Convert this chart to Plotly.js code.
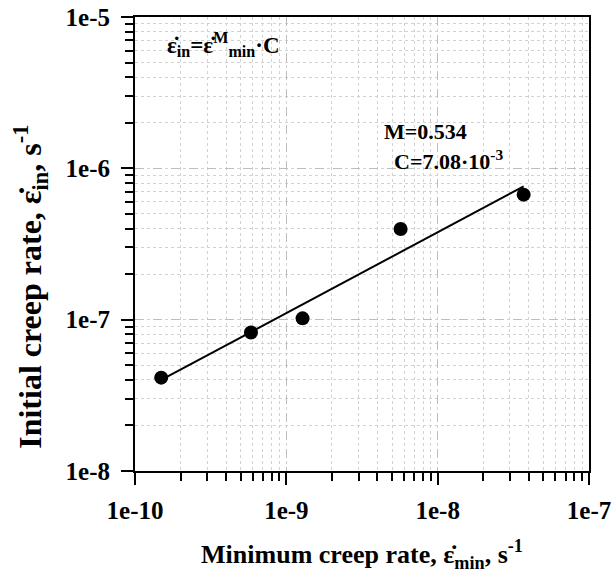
<!DOCTYPE html>
<html>
<head>
<meta charset="utf-8">
<script src="https://cdn.plot.ly/plotly-3.0.1.min.js"></script>
<style>html,body{margin:0;padding:0;background:#fff;}#chart{width:612px;height:579px;}</style>
</head>
<body>
<div id="chart"></div>
<script>
// Measured points: minimum creep rate vs initial creep rate
const minRate = [1.49e-10, 5.84e-10, 1.28e-9, 5.69e-9, 3.7e-8];
const initRate = [4.14e-8, 8.23e-8, 1.02e-7, 3.97e-7, 6.7e-7];
// Fitted power-law line end points
const fitX = [1.49e-10, 3.7e-8];
const fitY = [4.0e-8, 7.6e-7];
// Tick labels
const xTickVals = [1e-10, 1e-9, 1e-8, 1e-7];
const xTickText = ['1e-10', '1e-9', '1e-8', '1e-7'];
const yTickVals = [1e-8, 1e-7, 1e-6, 1e-5];
const yTickText = ['1e-8', '1e-7', '1e-6', '1e-5'];

const FONT = 'Liberation Serif, Times New Roman, serif';
const EDOT = 'ε\u0307';

const traces = [
  {x: fitX, y: fitY, mode: 'lines', line: {color: '#000', width: 2}, hoverinfo: 'skip'},
  {x: minRate, y: initRate, mode: 'markers', marker: {color: '#000', size: 14}}
];

function axis(vals, text, range) {
  return {
    type: 'log', range: range,
    tickmode: 'array', tickvals: vals, ticktext: text,
    ticks: 'outside', ticklen: 12, tickwidth: 2, tickcolor: '#000',
    showline: true, linecolor: '#000', linewidth: 2, mirror: true,
    showgrid: true, gridcolor: '#bdbdbd', gridwidth: 1, griddash: 'dash',
    zeroline: false,
    tickfont: {family: FONT, size: 25, color: '#000', weight: 'bold'},
    minor: {dtick: 'D1', ticks: 'outside', ticklen: 8, tickwidth: 2, tickcolor: '#000',
            showgrid: true, gridcolor: '#d2d2d2', gridwidth: 1, griddash: 'dot'}
  };
}

const xa = axis(xTickVals, xTickText, [-10, -7]);
xa.ticklabelstandoff = 4;
xa.title = {text: '<b>Minimum creep rate, ' + EDOT + '<sub>min</sub>, s<sup>-1</sup></b>',
            font: {family: FONT, size: 26, color: '#000'}, standoff: 22};
const ya = axis(yTickVals, yTickText, [-8, -5]);
ya.ticklabelstandoff = 6;

const layout = {
  width: 612, height: 579,
  margin: {l: 135, r: 23, t: 17, b: 108},
  paper_bgcolor: '#fff', plot_bgcolor: '#fff',
  showlegend: false,
  xaxis: xa, yaxis: ya,
  annotations: [
    {xref: 'paper', yref: 'paper', x: -0.232, y: 0.405, xanchor: 'center', yanchor: 'middle', showarrow: false,
     textangle: -90,
     text: '<b>Initial creep rate, ' + EDOT + '<sub>in</sub>, s<sup>-1</sup></b>',
     font: {family: FONT, size: 32, color: '#000'}},
    {xref: 'paper', yref: 'paper', x: 0.065, y: 0.94, xanchor: 'left', yanchor: 'middle', showarrow: false,
     text: '<b>' + EDOT + '<sub>in</sub>=' + EDOT + '<sup>M</sup><sub>min</sub>·C</b>',
     font: {family: FONT, size: 23, color: '#000'}},
    {xref: 'paper', yref: 'paper', x: 0.545, y: 0.747, xanchor: 'left', yanchor: 'middle', showarrow: false,
     text: '<b>M=0.534</b>', font: {family: FONT, size: 22, color: '#000'}},
    {xref: 'paper', yref: 'paper', x: 0.566, y: 0.685, xanchor: 'left', yanchor: 'middle', showarrow: false,
     text: '<b>C=7.08·10<sup>-3</sup></b>', font: {family: FONT, size: 22, color: '#000'}}
  ]
};

Plotly.newPlot('chart', traces, layout, {displayModeBar: false, staticPlot: true});
</script>
</body>
</html>
